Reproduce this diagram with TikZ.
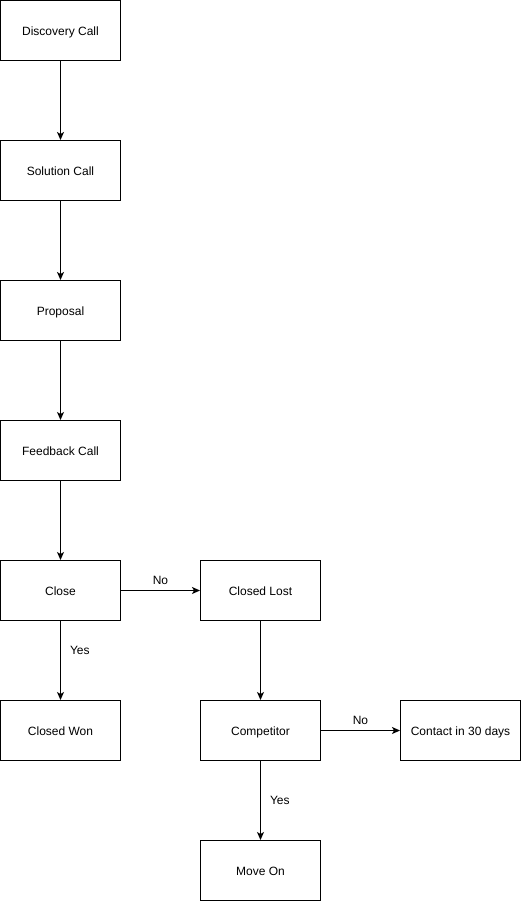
\documentclass[tikz,border=0pt]{standalone}
\usepackage{fontspec}
\setmainfont{Liberation Sans}
\usetikzlibrary{arrows.meta}
\begin{document}
\begin{tikzpicture}[x=1pt,y=-1pt,
  box/.style={draw=black,line width=1pt,minimum width=120pt,minimum height=60pt,inner sep=0pt,text height=11.5pt,text depth=2pt,font=\fontsize{12}{14}\selectfont},
  conn/.style={draw=black,line width=1pt,-{Stealth[length=8pt,width=7pt,inset=2pt]}},
  lab/.style={font=\fontsize{12}{14}\selectfont,fill=white,inner sep=1pt}]
\useasboundingbox (0,0) rectangle (521,901);
\node[box] (disc) at (60.5,30.5) {Discovery Call};
\node[box] (sol) at (60.5,170.5) {Solution Call};
\node[box] (prop) at (60.5,310.5) {Proposal};
\node[box] (feed) at (60.5,450.5) {Feedback Call};
\node[box] (close) at (60.5,590.5) {Close};
\node[box] (won) at (60.5,730.5) {Closed Won};
\node[box] (lost) at (260.5,590.5) {Closed Lost};
\node[box] (comp) at (260.5,730.5) {Competitor};
\node[box] (contact) at (460.5,730.5) {Contact in 30 days};
\node[box] (move) at (260.5,870.5) {Move On};
\draw[conn] (disc) -- (sol);
\draw[conn] (sol) -- (prop);
\draw[conn] (prop) -- (feed);
\draw[conn] (feed) -- (close);
\draw[conn] (close) -- node[lab,pos=0.375,right=8pt] {Yes} (won);
\draw[conn] (close) -- node[lab,pos=0.5,above=4pt] {No} (lost);
\draw[conn] (lost) -- (comp);
\draw[conn] (comp) -- node[lab,pos=0.5,above=4pt] {No} (contact);
\draw[conn] (comp) -- node[lab,pos=0.5,right=8pt] {Yes} (move);
\end{tikzpicture}
\end{document}
